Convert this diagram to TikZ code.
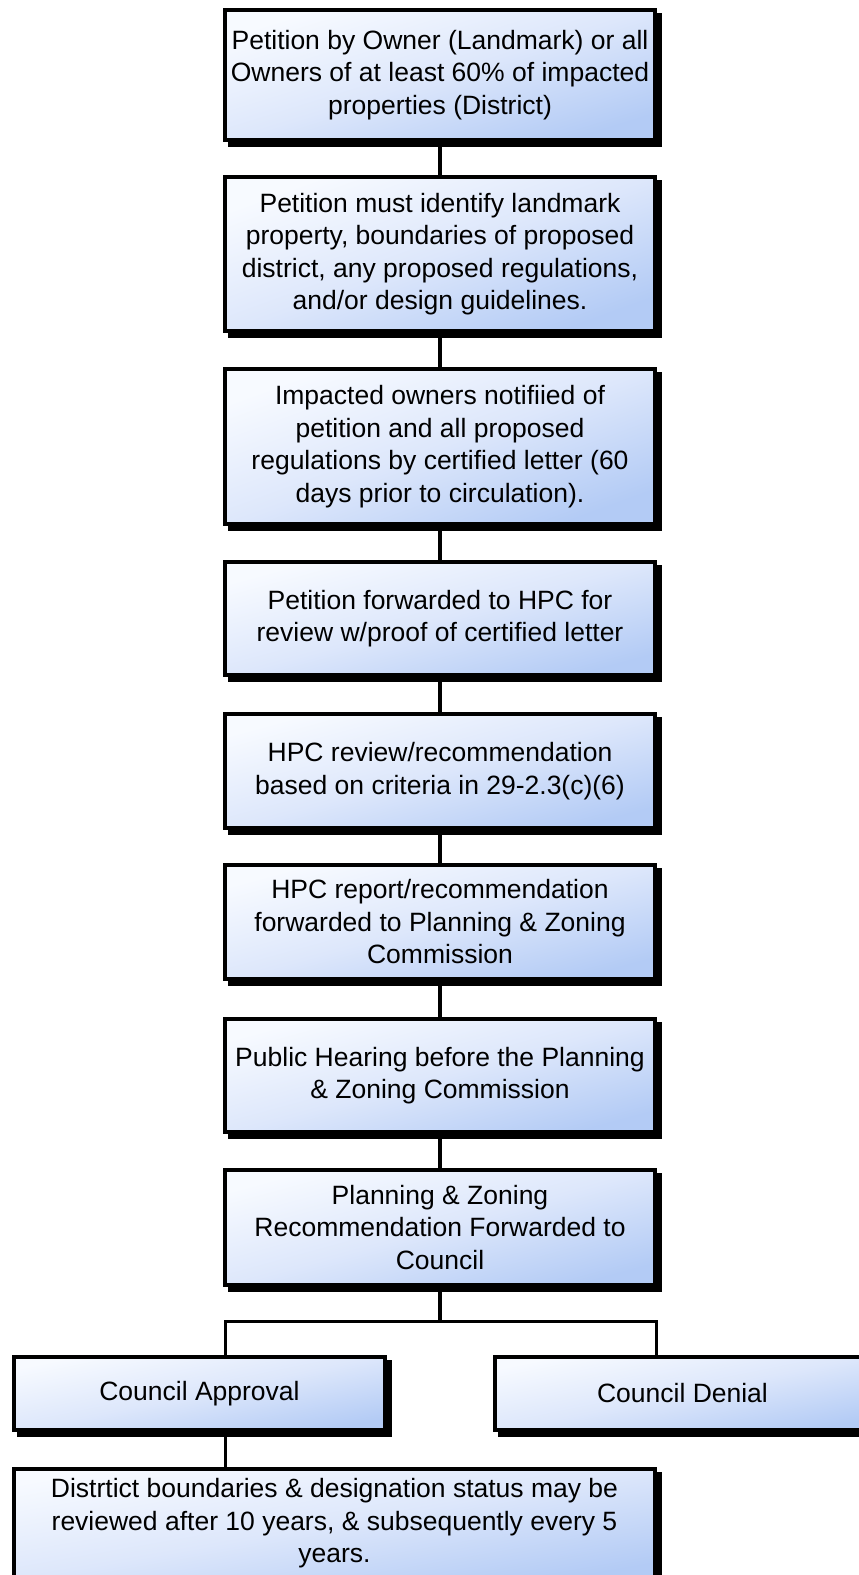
\documentclass[tikz,border=0pt]{standalone}
\usepackage{fontspec}
\setmainfont{Liberation Sans}
\usetikzlibrary{backgrounds}
\definecolor{boxlight}{HTML}{F7FAFF}
\definecolor{boxmid}{HTML}{DDE7FB}
\definecolor{boxdark}{HTML}{B3CBF5}
\pgfdeclareverticalshading{boxgrad}{100bp}{color(0bp)=(boxdark); color(25bp)=(boxdark); color(50bp)=(boxmid); color(75bp)=(boxlight); color(100bp)=(boxlight)}
\tikzset{
  stepbox/.style={rectangle, draw=black, line width=4pt, inner sep=0pt, align=center, text=black,
    font=\fontsize{26.5}{32.5}\selectfont,
    shading=boxgrad, shading angle=#1,
    preaction={draw=black, fill=black, line width=4pt, transform canvas={xshift=4.5pt, yshift=-4.5pt}}},
  mainbox/.style={stepbox=#1, minimum width=430pt},
  link/.style={draw=black, line width=3.5pt},
}
\begin{document}
\begin{tikzpicture}[x=1pt, y=-1pt]
\useasboundingbox (0,0) rectangle (859,1575);
\node[mainbox=17.2, minimum height=130pt] (b1) at (440,75) {\raisebox{7pt}{\begin{tabular}{@{}c@{}}Petition by Owner (Landmark) or all\\Owners of at least 60\% of impacted\\properties (District)\end{tabular}}};
\node[mainbox=20.0, minimum height=154pt] (b2) at (440,254) {Petition must identify landmark\\property, boundaries of proposed\\district, any proposed regulations,\\and/or design guidelines.};
\node[mainbox=20.1, minimum height=155pt] (b3) at (440,446.5) {Impacted owners notifiied of\\petition and all proposed\\regulations by certified letter (60\\days prior to circulation).};
\node[mainbox=15.1, minimum height=113pt] (b4) at (440,618.5) {Petition forwarded to HPC for\\review w/proof of certified letter};
\node[mainbox=15.2, minimum height=114pt] (b5) at (440,771) {HPC review/recommendation\\based on criteria in 29-2.3(c)(6)};
\node[mainbox=15.2, minimum height=114pt] (b6) at (440,922) {HPC report/recommendation\\forwarded to Planning \& Zoning\\Commission};
\node[mainbox=15.1, minimum height=113pt] (b7) at (440,1075.5) {Public Hearing before the Planning\\\& Zoning Commission};
\node[mainbox=15.3, minimum height=115pt] (b8) at (440,1227.5) {Planning \& Zoning\\Recommendation Forwarded to\\Council};
\node[stepbox=11.6, minimum width=371pt, minimum height=73pt] (ca) at (199.5,1393.5) {Council Approval};
\node[stepbox=11.5, minimum width=375pt, minimum height=73pt] (cd) at (682.5,1393.5) {Council Denial};
\node[stepbox=9.9, minimum width=641pt, minimum height=109pt] (bot) at (334.5,1523.5) {Distrtict boundaries \& designation status may be\\reviewed after 10 years, \& subsequently every 5\\years.};
\coordinate (jl) at (225.7,1321.7);
\coordinate (jr) at (656.7,1321.7);
\begin{scope}[on background layer]
\draw[link] (b1) -- (b2);
\draw[link] (b2) -- (b3);
\draw[link] (b3) -- (b4);
\draw[link] (b4) -- (b5);
\draw[link] (b5) -- (b6);
\draw[link] (b6) -- (b7);
\draw[link] (b7) -- (b8);
\draw[link] (b8.south) -- (b8.south |- jl);
\draw[link, line join=miter] (jl |- ca.north) -- (jl) -- (jr) -- (jr |- cd.north);
\draw[link] (jl |- ca.south) -- (jl |- bot.north);
\end{scope}
\end{tikzpicture}
\end{document}
